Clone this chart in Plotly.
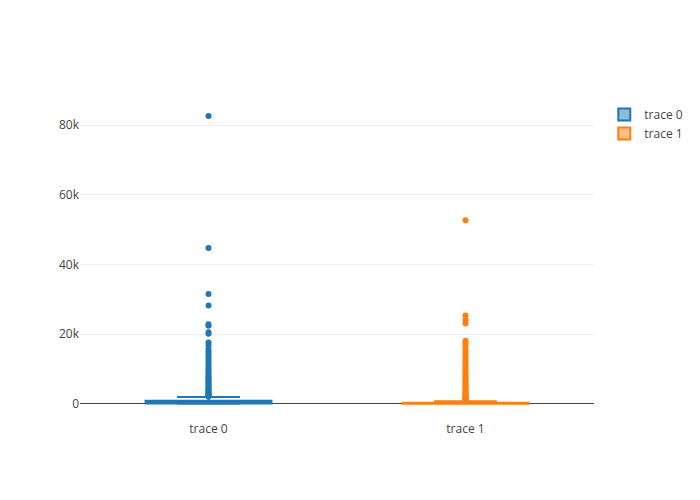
import plotly.graph_objects as go

categories = ["trace 0", "trace 1"]

# precomputed box statistics
q1_vals = [30, 0]
median_vals = [300, 120]
q3_vals = [880, 300]
lower_fence = [0, 0]
upper_fence = [1900, 720]

# outliers
outliers_0 = [82600, 44700, 31500, 28200, 22800, 22400, 20500, 20100,
              17600, 16800, 15700, 15000, 14200, 13500, 12800, 12100,
              11400, 10800, 10200, 9700, 9200, 8700, 8200, 7700, 7300,
              6900, 6500, 6100, 5700, 5300, 4900, 4500, 4200, 3900, 3600,
              3300, 3000, 2800, 2600, 2400, 2200, 2100]
outliers_1 = [52700, 25300, 24000, 23000, 18100, 17400, 16600, 15800,
              15000, 14200, 13500, 12800, 12100, 11500, 10900, 10300,
              9700, 9100, 8600, 8100, 7600, 7100, 6600, 6100, 5700, 5300,
              4900, 4500, 4100, 3700, 3300, 3000, 2700, 2400, 2100, 1800,
              1500, 1300, 1100, 900, 800]
outliers = [outliers_0, outliers_1]

colors = ["#1f77b4", "#ff7f0e"]

fig = go.Figure()
for i, cat in enumerate(categories):
    fig.add_trace(go.Box(
        name=cat,
        x=[cat],
        q1=[q1_vals[i]],
        median=[median_vals[i]],
        q3=[q3_vals[i]],
        lowerfence=[lower_fence[i]],
        upperfence=[upper_fence[i]],
        marker_color=colors[i],
        line=dict(color=colors[i], width=2),
        boxpoints=False,
    ))
for i, cat in enumerate(categories):
    fig.add_trace(go.Scatter(
        x=[cat] * len(outliers[i]),
        y=outliers[i],
        mode="markers",
        marker=dict(color=colors[i], size=6),
        showlegend=False,
        hoverinfo="y",
    ))

fig.update_layout(
    template="none",
    width=684,
    height=484,
    margin=dict(l=72, r=98, t=92, b=72, autoexpand=False),
    boxmode="overlay",
    xaxis=dict(type="category"),
    yaxis=dict(zeroline=True, range=[-4680, 87200]),
)

fig.write_html("out.html")
